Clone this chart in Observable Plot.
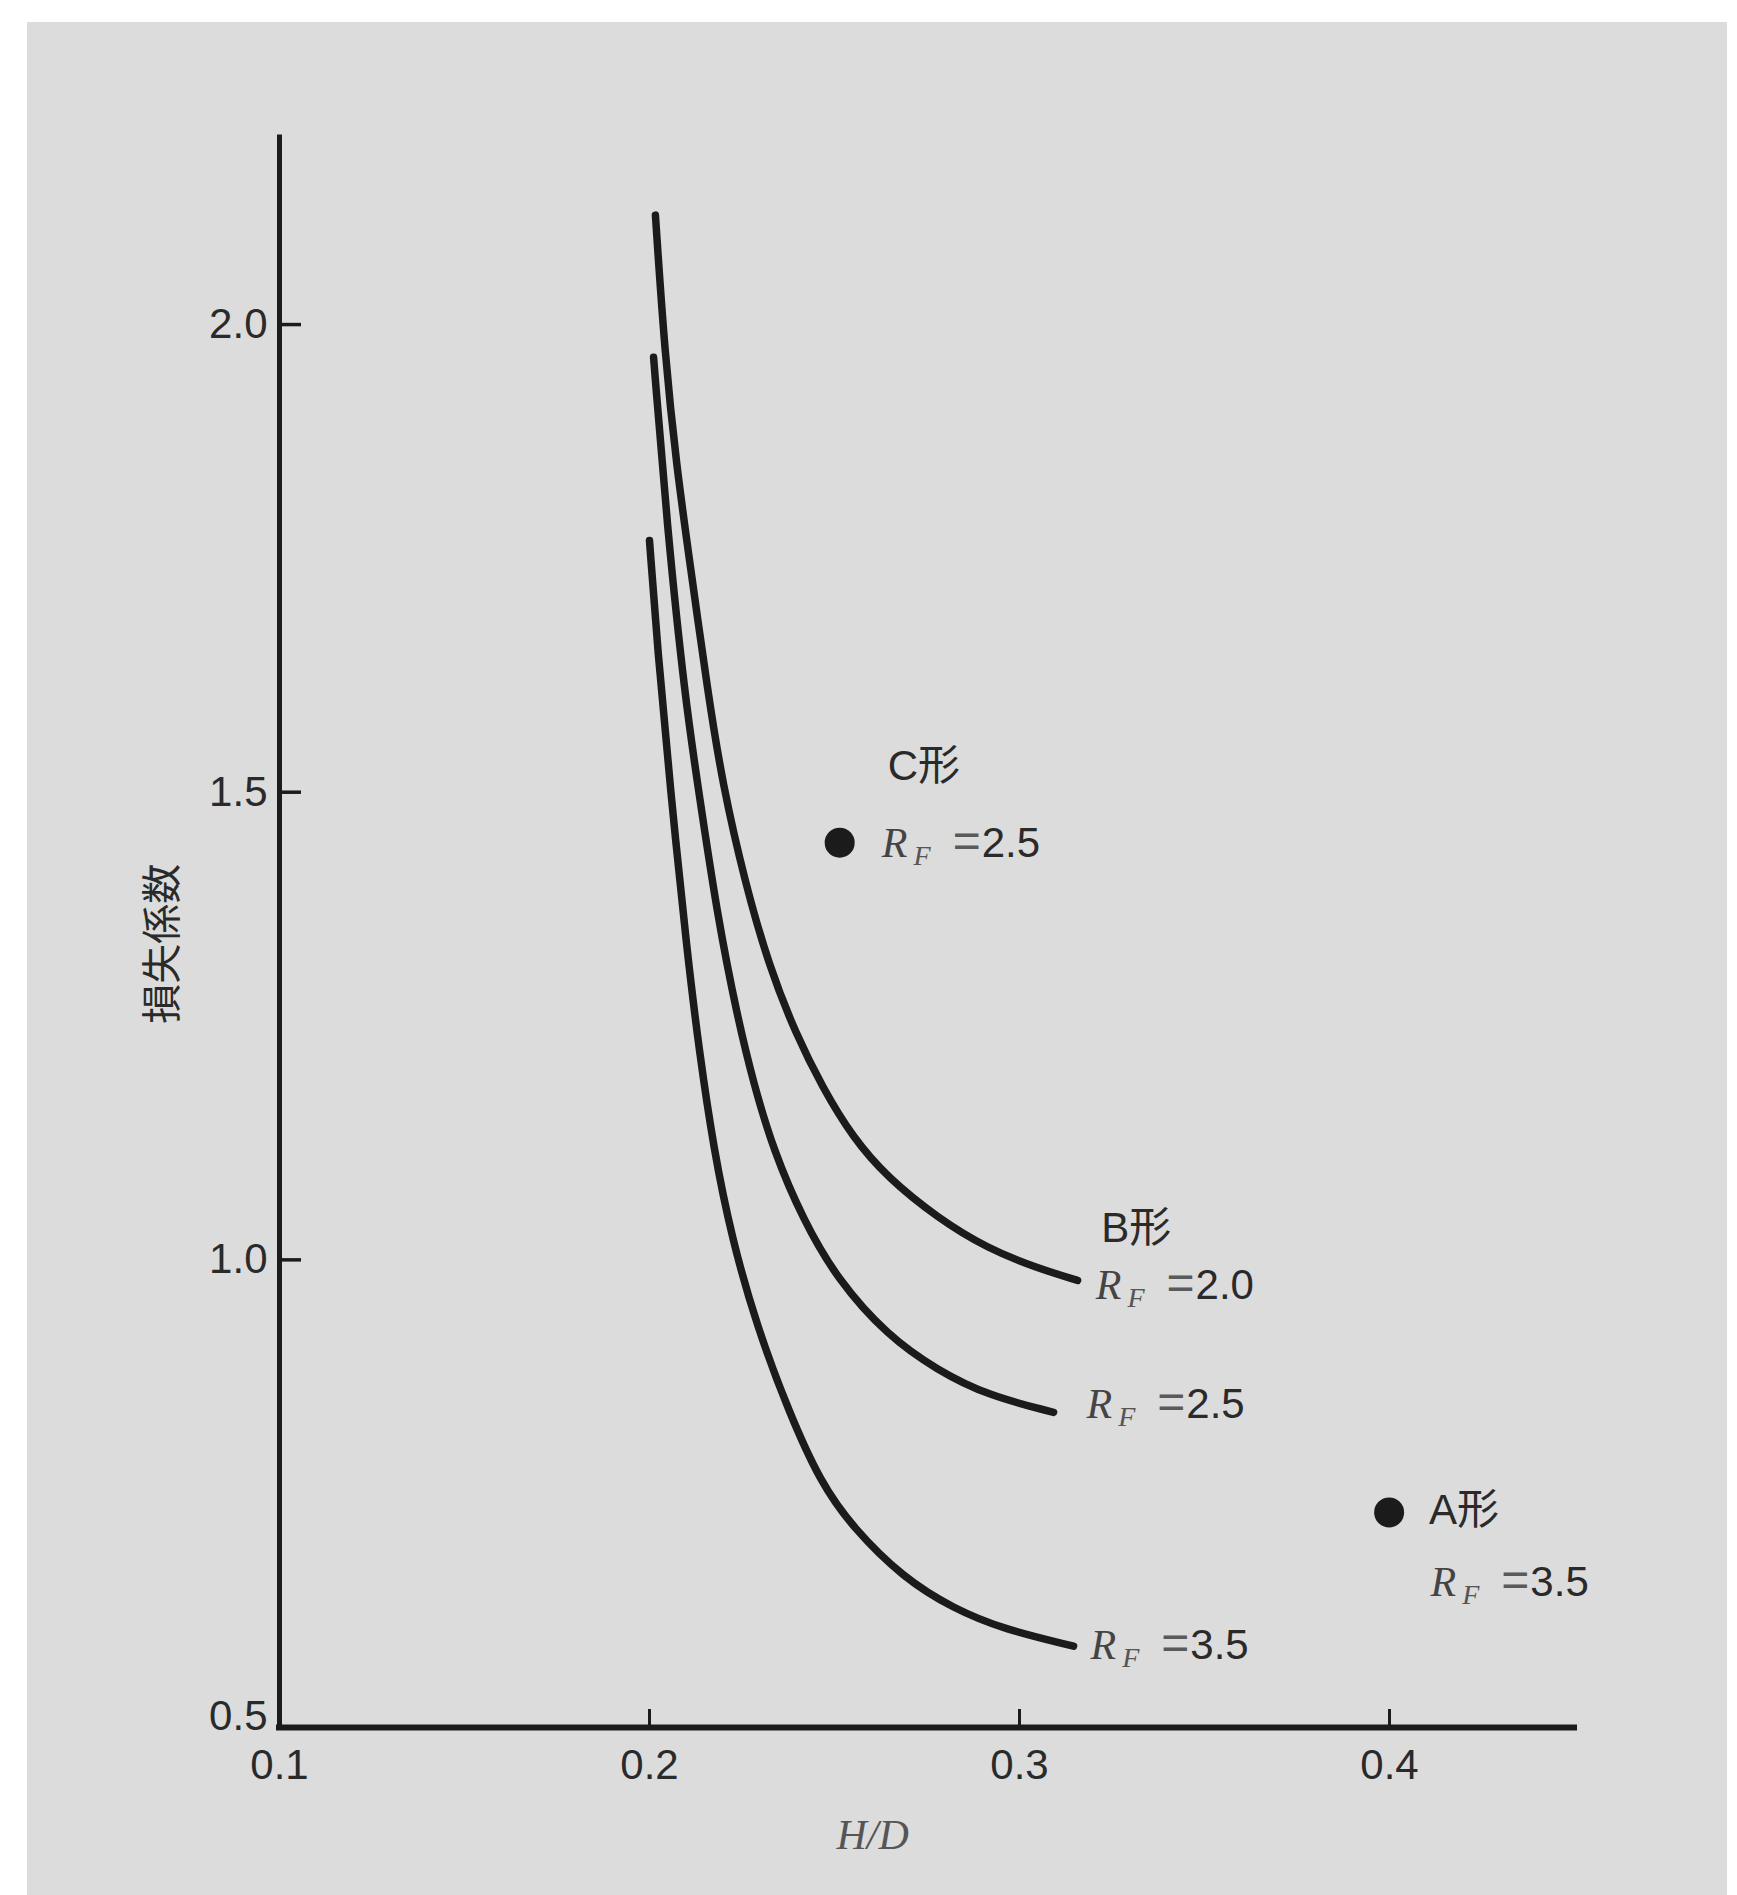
<!DOCTYPE html>
<html>
<head>
<meta charset="utf-8">
<script src="https://cdn.jsdelivr.net/npm/d3@7"></script>
<script src="https://cdn.jsdelivr.net/npm/@observablehq/plot@0.6"></script>
<style>
  html, body { margin: 0; padding: 0; background: #ffffff; }
  body { width: 1737px; height: 1895px; overflow: hidden; position: relative; }
  #bg { position: absolute; left: 27px; top: 22px; width: 1700px; height: 1873px; background: #dcdcdc; }
  #chart { position: absolute; left: 0; top: 0; }
</style>
</head>
<body>
<div id="bg"></div>
<div id="chart"></div>
<script>
// ---- data ----
const xDomain = [0.1, 0.45];
const yDomain = [0.5, 2.2];
const xTicks = [0.1, 0.2, 0.3, 0.4];
const yTicks = [0.5, 1.0, 1.5, 2.0];

// B形 curves, H/D vs 損失係数
const hdRF20   = [0.2016, 0.2041, 0.2073, 0.2111, 0.2157, 0.2197, 0.2259, 0.2324, 0.2395, 0.2468, 0.2549, 0.2643, 0.2778, 0.2914, 0.3049, 0.3157];
const lossRF20 = [2.117, 1.970, 1.848, 1.740, 1.609, 1.509, 1.402, 1.313, 1.242, 1.184, 1.131, 1.088, 1.045, 1.012, 0.991, 0.978];

const hdRF25   = [0.2011, 0.2049, 0.2097, 0.2130, 0.2184, 0.2238, 0.2281, 0.2335, 0.2416, 0.2508, 0.2643, 0.2778, 0.2914, 0.3092];
const lossRF25 = [1.965, 1.777, 1.598, 1.509, 1.366, 1.259, 1.189, 1.117, 1.042, 0.979, 0.919, 0.882, 0.855, 0.837];

const hdRF35   = [0.2000, 0.2022, 0.2055, 0.2101, 0.2134, 0.2174, 0.2222, 0.2289, 0.2377, 0.2462, 0.2551, 0.2686, 0.2822, 0.2957, 0.3146];
const lossRF35 = [1.769, 1.652, 1.509, 1.331, 1.224, 1.117, 1.024, 0.930, 0.837, 0.762, 0.713, 0.660, 0.627, 0.605, 0.587];

// single points (C形 and A形)
const pointName = ["C形", "A形"];
const pointHD   = [0.2514, 0.3999];
const pointLoss = [1.446, 0.730];

// annotations
const labelText = ["C形", "R_F =2.5", "B形", "R_F =2.0", "R_F =2.5", "R_F =3.5", "A形", "R_F =3.5"];
const labelHD   = [0.2644, 0.2628, 0.3221, 0.3206, 0.3181, 0.3192, 0.4107, 0.4111];
const labelLoss = [1.527, 1.445, 1.034, 0.973, 0.845, 0.588, 0.732, 0.655];

const xTitle = "H/D";
const xTitleAt = [0.2603, 0.5];
const yTitle = "損失係数";
const yTitleAt = [0.1, 1.338];

// ---- build tables ----
const toRows = (xs, ys, name) => xs.map((x, i) => ({hd: x, loss: ys[i], series: name}));
const curves = [
  ...toRows(hdRF20, lossRF20, "RF2.0"),
  ...toRows(hdRF25, lossRF25, "RF2.5"),
  ...toRows(hdRF35, lossRF35, "RF3.5")
];
const points = pointName.map((n, i) => ({name: n, hd: pointHD[i], loss: pointLoss[i]}));
const labels = labelText.map((t, i) => ({text: t, hd: labelHD[i], loss: labelLoss[i]}));

const W = 1737, H = 1895;
const mL = 279, mR = 163, mT = 137, mB = 168;
const plotW = W - mL - mR, plotH = H - mT - mB;
const xTickLen = 18 * (yDomain[1] - yDomain[0]) / plotH;
const yTickLen = 22 * (xDomain[1] - xDomain[0]) / plotW;

const ink = "#1b1b1b";
const textInk = "#2a2a2a";
const sans = "'Liberation Sans', Arial, 'Noto Sans CJK JP', sans-serif";
const serif = "'Liberation Serif', 'DejaVu Serif', serif";
const fmt = d3.format(".1f");

const plot = Plot.plot({
  width: W,
  height: H,
  marginLeft: mL,
  marginRight: mR,
  marginTop: mT,
  marginBottom: mB,
  style: {background: "transparent", overflow: "visible", fontFamily: sans},
  x: {domain: xDomain, axis: null},
  y: {domain: yDomain, axis: null},
  marks: [
    // axis lines
    Plot.ruleY([yDomain[0]], {x1: xDomain[0], x2: xDomain[1], stroke: ink, strokeWidth: 6, strokeLinecap: "square"}),
    Plot.ruleX([xDomain[0]], {y1: yDomain[0], y2: yDomain[1], stroke: ink, strokeWidth: 5, strokeLinecap: "square"}),
    // ticks (drawn inward)
    Plot.ruleX(xTicks.slice(1), {x: d => d, y1: yDomain[0], y2: yDomain[0] + xTickLen, stroke: ink, strokeWidth: 3}),
    Plot.ruleY(yTicks.slice(1), {y: d => d, x1: xDomain[0], x2: xDomain[0] + yTickLen, stroke: ink, strokeWidth: 3.5}),
    // tick labels
    Plot.text(xTicks, {x: d => d, y: yDomain[0], dy: 38, text: d => fmt(d), fontSize: 42, fill: textInk, fontFamily: sans}),
    Plot.text(yTicks.slice(1), {x: xDomain[0], y: d => d, dx: -12, textAnchor: "end", text: d => fmt(d), fontSize: 42, fill: textInk, fontFamily: sans}),
    Plot.text(yTicks.slice(0, 1), {x: xDomain[0], y: d => d, dx: -12, dy: -11, textAnchor: "end", text: d => fmt(d), fontSize: 42, fill: textInk, fontFamily: sans}),
    // axis titles
    Plot.text([xTitle], {x: () => xTitleAt[0], y: () => xTitleAt[1], dy: 108, text: d => d, fontSize: 42, fontStyle: "italic", fontFamily: serif, fill: "#555555"}),
    Plot.text([yTitle], {x: () => yTitleAt[0], y: () => yTitleAt[1], dx: -116, rotate: -90, text: d => d, fontSize: 40, fontFamily: "'Noto Sans CJK JP', sans-serif", fill: textInk}),
    // curves
    Plot.line(curves, {x: "hd", y: "loss", z: "series", curve: "basis", stroke: ink, strokeWidth: 7.5, strokeLinecap: "round", strokeLinejoin: "round"}),
    // points
    Plot.dot(points, {x: "hd", y: "loss", r: 15, fill: ink, stroke: "none"}),
    // annotations
    Plot.text(labels, {x: "hd", y: "loss", text: "text", textAnchor: "start", fontSize: 42, fill: textInk, fontFamily: sans})
  ]
});

// rich-text for R_F labels (italic R with subscript F)
const NS = "http://www.w3.org/2000/svg";
plot.querySelectorAll("text").forEach(t => {
  const s = t.textContent;
  if (!s.startsWith("R_F")) return;
  const rest = s.slice(3).trim(); // "=2.5"
  const num = rest.replace("=", "");
  while (t.firstChild) t.removeChild(t.firstChild);
  const mk = (txt, attrs) => {
    const ts = document.createElementNS(NS, "tspan");
    for (const k in attrs) ts.setAttribute(k, attrs[k]);
    ts.textContent = txt;
    t.appendChild(ts);
  };
  mk("R", {"font-family": serif, "font-style": "italic", "fill": "#444444"});
  mk("F", {"font-family": serif, "font-style": "italic", "font-size": "28", "dx": "6", "dy": "8", "fill": "#555555"});
  mk("=", {"font-family": sans, "font-size": "48", "dx": "22", "dy": "-8", "fill": "#5a5a5a"});
  mk(num, {"font-family": sans, "dx": "1"});
});

document.getElementById("chart").appendChild(plot);
</script>
</body>
</html>
